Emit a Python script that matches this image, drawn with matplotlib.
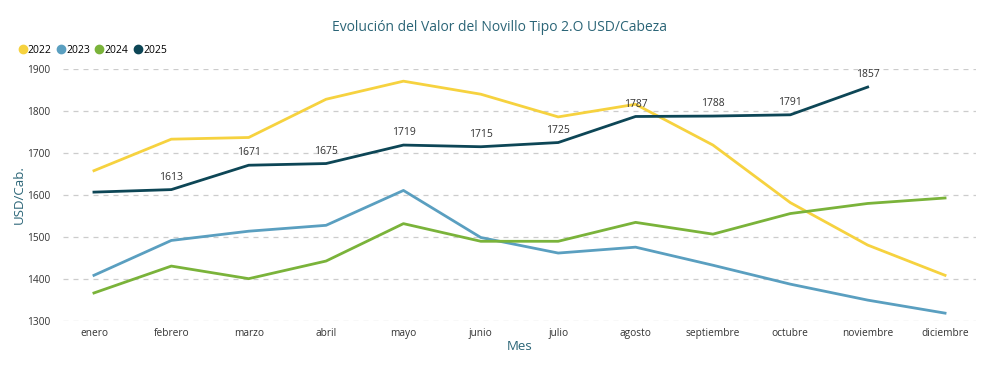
import matplotlib
matplotlib.use("Agg")
import matplotlib.pyplot as plt
from matplotlib.lines import Line2D

meses = ["enero", "febrero", "marzo", "abril", "mayo", "junio", "julio",
         "agosto", "septiembre", "octubre", "noviembre", "diciembre"]

v2022 = [1658, 1733, 1737, 1828, 1871, 1840, 1786, 1816, 1719, 1582, 1481, 1409]
v2023 = [1409, 1492, 1514, 1528, 1611, 1499, 1462, 1476, 1433, 1388, 1350, 1319]
v2024 = [1367, 1431, 1401, 1443, 1532, 1490, 1490, 1535, 1507, 1556, 1580, 1593]
v2025 = [1607, 1613, 1671, 1675, 1719, 1715, 1725, 1787, 1788, 1791, 1857]

series = [
    ("2022", v2022, "#F6D23F"),
    ("2023", v2023, "#5A9FC0"),
    ("2024", v2024, "#7AB33A"),
    ("2025", v2025, "#0D4656"),
]

plt.rcParams["font.family"] = ["Open Sans", "DejaVu Sans"]
teal = "#2B6577"

fig = plt.figure(figsize=(10, 3.67), dpi=100)
ax = fig.add_axes([0.063, 0.125, 0.913, 0.687])

for name, vals, color in series:
    ax.plot(range(len(vals)), vals, color=color, linewidth=2, solid_joinstyle="round")

# data labels for 2025 (skip first point)
for i, v in enumerate(v2025):
    if i == 0:
        continue
    ax.annotate(str(v), (i, v), xytext=(0, 5), textcoords="offset points",
                ha="center", va="bottom", fontsize=7.5, color="#333333")

ax.set_xlim(-0.4, 11.4)
ax.set_ylim(1300, 1900)
ax.set_yticks([1300, 1400, 1500, 1600, 1700, 1800, 1900])
ax.set_xticks(range(len(meses)))
ax.set_xticklabels(meses)
ax.tick_params(axis="both", length=0, labelsize=7.3, colors="#333333")
ax.tick_params(axis="y", pad=9)
ax.tick_params(axis="x", pad=5)
ax.grid(axis="y", linestyle=(0, (4, 4)), color="#CCCCCC", linewidth=0.9)
ax.set_axisbelow(True)
for s in ax.spines.values():
    s.set_visible(False)

ax.set_xlabel("Mes", fontsize=9.5, color=teal, labelpad=1)
ax.set_ylabel("USD/Cab.", fontsize=9.5, color=teal, labelpad=1)

fig.text(0.5, 0.925, "Evolución del Valor del Novillo Tipo 2.O USD/Cabeza",
         ha="center", va="center", fontsize=10, color=teal)

handles = [Line2D([], [], marker="o", linestyle="", color=c, markersize=6)
           for _, _, c in series]
fig.legend(handles, [n for n, _, _ in series], loc="center left",
           bbox_to_anchor=(0.008, 0.863), ncol=4, frameon=False, fontsize=7.5,
           handletextpad=0.0, columnspacing=0.4, handlelength=1.0)

fig.savefig("out.png", dpi=100)
